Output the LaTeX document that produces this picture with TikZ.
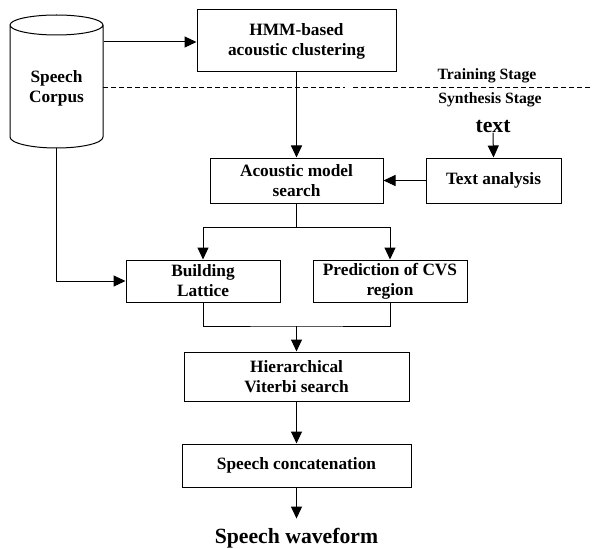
\documentclass[tikz,border=0pt]{standalone}
\usepackage{fontspec}
\setmainfont{Liberation Serif}
\usetikzlibrary{arrows.meta}
\begin{document}
\begin{tikzpicture}[x=1pt,y=1pt,
  line width=1pt,
  box/.style={draw, rectangle, inner sep=0pt, align=center, font=\fontsize{17.3}{20}\selectfont\bfseries},
  lbl/.style={inner sep=0pt, align=center, font=\fontsize{15.7}{18}\selectfont\bfseries},
  big/.style={inner sep=0pt, align=center, font=\fontsize{21.7}{24}\selectfont\bfseries},
  arr/.style={-{Triangle[length=12pt,width=11pt]}},
  ln/.style={-}
]
\useasboundingbox (0,0) rectangle (593,-548);
% cylinder
\draw (10,-25) -- (10,-137) arc[start angle=180,end angle=360,x radius=46.5,y radius=11]
  -- (103,-25) arc[start angle=0,end angle=180,x radius=46.5,y radius=10]
  arc[start angle=180,end angle=360,x radius=46.5,y radius=10];
\node[box, draw=none, minimum width=93pt, minimum height=60pt] (corpus) at (56.5,-88) {Speech\\Corpus};
\coordinate (cbot) at (56.5,-148);

\node[box, minimum width=199pt, minimum height=62pt] (hmm) at (296.5,-41) {HMM-based\\acoustic clustering};
\node[box, minimum width=173pt, minimum height=45pt] (acm) at (296.5,-180.5) {Acoustic model\\search};
\node[box, minimum width=135pt, minimum height=45pt] (ta) at (493.5,-180.5) {Text analysis};
\node[box, minimum width=154pt, minimum height=42pt] (bl) at (203,-281) {Building\\Lattice};
\node[box, minimum width=154pt, minimum height=42pt] (pc) at (390,-281) {Prediction of CVS\\region};
\node[box, minimum width=225pt, minimum height=49pt] (hv) at (296.5,-376.5) {Hierarchical\\Viterbi search};
\node[box, minimum width=229pt, minimum height=43pt] (sc) at (296.5,-465.5) {Speech concatenation};
\node[big] (sw) at (296.5,-538) {Speech waveform};
\node[big] (txt) at (493,-126) {text};
\node[lbl] (train) at (487,-76) {Training Stage};
\node[lbl] (synth) at (490,-100) {Synthesis Stage};

% dashed separator
\coordinate (d1) at (103,-87);
\coordinate (d2) at (345,-87);
\coordinate (d3) at (353,-87);
\coordinate (d4) at (593,-87);
\draw[dash pattern=on 5pt off 3pt, line width=0.9pt] (d1) -- (d2) (d3) -- (d4);

% connectors
\draw[arr] (corpus.east |- 0,-42) -- (hmm.west |- 0,-42);
\draw[arr] (hmm.south) -- (acm.north);
\draw[arr] (txt.south) -- (ta.north);
\draw[arr] (ta.west) -- (acm.east);
\draw[arr] (cbot) |- (bl.west);
\coordinate (split) at (296.5,-227);
\draw (acm.south) -- (split);
\draw[arr] (split) -| (bl.north);
\draw[arr] (split) -| (pc.north);
\coordinate (merge) at (296.5,-326);
\draw (bl.south) |- (merge) -| (pc.south);
\draw[arr] (merge) -- (hv.north);
\draw[arr] (hv.south) -- (sc.north);
\draw[arr, shorten >=9pt] (sc.south) -- (sw.north);
\end{tikzpicture}
\end{document}
